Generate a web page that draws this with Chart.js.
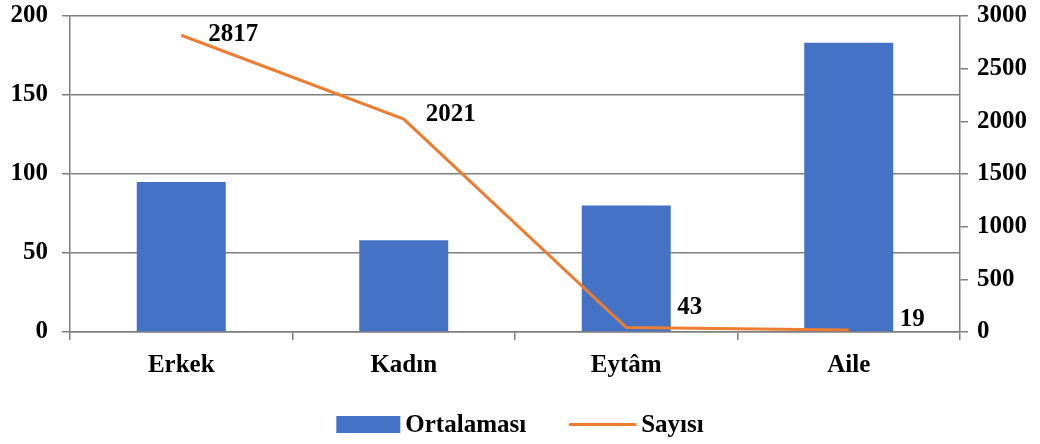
<!DOCTYPE html>
<html>
<head>
<meta charset="utf-8">
<script src="https://cdn.jsdelivr.net/npm/chart.js@4/dist/chart.umd.min.js"></script>
<style>
  html, body { margin: 0; padding: 0; background: #fff; }
  #wrap { width: 1040px; height: 444px; position: relative; }
</style>
</head>
<body>
<div id="wrap"><canvas id="chart"></canvas></div>
<script>
// Kategoriler ve seriler
const categories = ["Erkek", "Kadın", "Eytâm", "Aile"];
const ortalamasi = [95, 58, 80, 183];      // sol eksen
const sayisi = [2817, 2021, 43, 19];       // sağ eksen
const leftTicks = [0, 50, 100, 150, 200];
const rightTicks = [0, 500, 1000, 1500, 2000, 2500, 3000];

// etiketlerin noktaya göre kaydırılması (dx, dy)
const labelOffsets = [[27, -1], [22, -5], [51, -20], [51, -10]];

const FONT = '"Liberation Serif", "Times New Roman", serif';
const GRID = '#7f7f7f';
const BLUE = '#4472C4';
const ORANGE = '#ED7D31';

Chart.defaults.font.family = FONT;
Chart.defaults.font.weight = 'bold';
Chart.defaults.color = '#000';

/**
 * Veri etiketleri: çizgi serisinin noktalarının yanına değerleri yazar
 */
const valueLabels = {
  id: 'valueLabels',
  afterDatasetsDraw(chart) {
    const ctx = chart.ctx;
    const meta = chart.getDatasetMeta(0);
    ctx.save();
    ctx.font = 'bold 25px ' + FONT;
    ctx.fillStyle = '#000';
    ctx.textAlign = 'left';
    ctx.textBaseline = 'middle';
    meta.data.forEach((pt, i) => {
      const [dx, dy] = labelOffsets[i];
      ctx.fillText(String(sayisi[i]), pt.x + dx, pt.y + dy);
    });
    ctx.restore();
  }
};

/**
 * Alt kısımdaki açıklama (legend) - kutu ve çizgi
 */
const bottomLegend = {
  id: 'bottomLegend',
  afterDraw(chart) {
    const ctx = chart.ctx;
    ctx.save();
    ctx.font = 'bold 25px ' + FONT;
    ctx.textBaseline = 'middle';
    const barDs = chart.data.datasets[1];
    const lineDs = chart.data.datasets[0];
    const w1 = ctx.measureText(barDs.label).width;
    const w2 = ctx.measureText(lineDs.label).width;
    const total = 64 + 5 + w1 + 44 + 65 + 6 + w2;
    const cy = 424.5;
    let x = (chart.chartArea.left + chart.chartArea.right) / 2 - total / 2 + 5;

    ctx.fillStyle = barDs.backgroundColor;
    ctx.fillRect(x, cy - 8.5, 64, 17);
    x += 64 + 5;
    ctx.fillStyle = '#000';
    ctx.fillText(barDs.label, x, cy + 1);
    x += w1 + 44;

    ctx.strokeStyle = lineDs.borderColor;
    ctx.lineWidth = 3;
    ctx.lineCap = 'round';
    ctx.beginPath();
    ctx.moveTo(x, cy);
    ctx.lineTo(x + 65, cy);
    ctx.stroke();
    x += 65 + 6;
    ctx.fillText(lineDs.label, x, cy + 1);
    ctx.restore();
  }
};

// eksen genişliği sabit, üst/alt iç boşluk sıfır
function fixAxis(width) {
  return (scale) => {
    scale.width = width;
    scale.paddingTop = 0;
    scale.paddingBottom = 0;
  };
}

new Chart(document.getElementById('chart'), {
  type: 'bar',
  data: {
    labels: categories,
    datasets: [
      {
        type: 'line',
        label: 'Sayısı',
        data: sayisi,
        yAxisID: 'y1',
        borderColor: ORANGE,
        backgroundColor: ORANGE,
        borderWidth: 3,
        pointRadius: 0,
        tension: 0,
        order: 0
      },
      {
        type: 'bar',
        label: 'Ortalaması',
        data: ortalamasi,
        yAxisID: 'y',
        backgroundColor: BLUE,
        categoryPercentage: 1,
        barPercentage: 0.4,
        order: 1
      }
    ]
  },
  options: {
    responsive: true,
    maintainAspectRatio: false,
    animation: false,
    layout: { padding: { top: 16, bottom: 50, left: 0, right: 0 } },
    plugins: {
      legend: { display: false },
      tooltip: { enabled: false }
    },
    scales: {
      x: {
        offset: true,
        grid: { display: true, drawOnChartArea: false, offset: true, tickLength: 8, color: GRID, lineWidth: 1.5 },
        border: { display: true, color: GRID, width: 1.5 },
        ticks: { font: { size: 25, weight: 'bold' }, padding: 11, color: '#000' },
        afterFit(scale) { scale.height = 62; }
      },
      y: {
        position: 'left',
        min: 0,
        max: 200,
        afterBuildTicks(scale) { scale.ticks = leftTicks.map(v => ({ value: v })); },
        grid: { color: GRID, lineWidth: 1.5, tickLength: 8 },
        border: { display: true, color: GRID, width: 1.5 },
        ticks: { font: { size: 25, weight: 'bold' }, padding: 14, color: '#000', callback: v => String(v) },
        afterFit: fixAxis(70)
      },
      y1: {
        position: 'right',
        min: 0,
        max: 3000,
        afterBuildTicks(scale) { scale.ticks = rightTicks.map(v => ({ value: v })); },
        grid: { drawOnChartArea: false, color: GRID, lineWidth: 1.5, tickLength: 8 },
        border: { display: true, color: GRID, width: 1.5 },
        ticks: { font: { size: 25, weight: 'bold' }, padding: 9, color: '#000', callback: v => String(v) },
        afterFit: fixAxis(80)
      }
    }
  },
  plugins: [valueLabels, bottomLegend]
});
</script>
</body>
</html>
